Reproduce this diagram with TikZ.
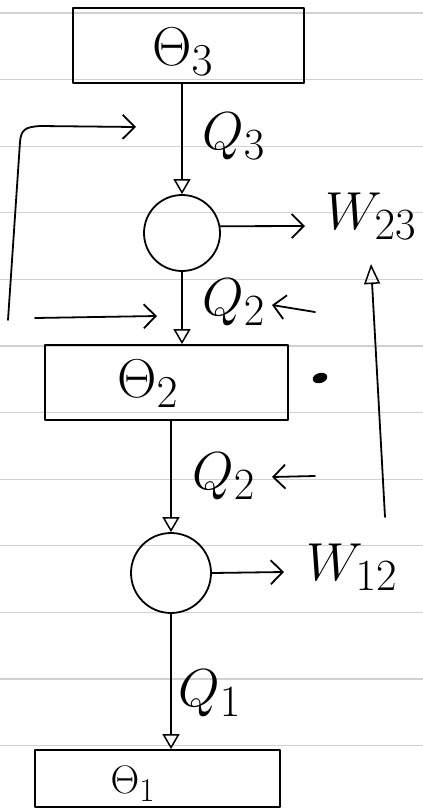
\documentclass[tikz,border=0pt]{standalone}
\usepackage{graphicx}
\usetikzlibrary{arrows.meta,calc}
\newcommand{\bigsym}[2][2.15]{\scalebox{#1}{\Huge #2}}
\begin{document}
\begin{tikzpicture}[x=1pt,y=-1pt,
  paper/.style={draw=black!18, line width=1.2pt},
  ink/.style={line width=1.8pt, line cap=round, line join=round},
  tank/.style={draw, ink, inner sep=0pt},
  engine/.style={draw, ink, circle, inner sep=0pt},
  lbl/.style={inner sep=0pt},
  flow/.style={ink, -{Triangle[open, length=15pt, width=17pt, line width=1.5pt]}},
  barb/.style={ink, -{Straight Barb[length=12pt, width=24pt, line width=1.8pt]}}
]
\useasboundingbox (0,0) rectangle (423,809);
% lined paper
\foreach \k in {0,...,11} \draw[paper] (0,13+66.6*\k) -- (423,13+66.6*\k);

% reservoirs
\node[tank, minimum width=231pt, minimum height=75pt] (t3) at (188.5,45.5) {};
\node[tank, minimum width=243pt, minimum height=75pt] (t2) at (166.5,382.5) {};
\node[tank, minimum width=245pt, minimum height=57pt] (t1) at (157.5,778.5) {};
\node[lbl] (t3txt) at (183,52) {\bigsym[2.2]{$\Theta_3$}};
\node[lbl] (t2txt) at (148,384) {\bigsym[2.2]{$\Theta_2$}};
\node[lbl] (t1txt) at (133,784) {\bigsym[1.6]{$\Theta_1$}};

% engines
\node[engine, minimum size=76pt] (c1) at (182,233) {};
\node[engine, minimum size=80pt] (c2) at (171,573) {};

% heat flows
\draw[flow] (c1.north |- t3.south) -- (c1.north);
\draw[flow] (c1.south) -- (c1.south |- t2.north);
\draw[flow] (c2.north |- t2.south) -- (c2.north);
\draw[flow] (c2.south) -- (c2.south |- t1.north);

\node[lbl] (q3) at (234,136) {\bigsym{$Q_3$}};
\node[lbl] (q2a) at (234,302) {\bigsym{$Q_2$}};
\node[lbl] (q2b) at (224,476) {\bigsym{$Q_2$}};
\node[lbl] (q1) at (210,693) {\bigsym{$Q_1$}};

% work
\coordinate (w23a) at (305,226);
\coordinate (w12a) at (284,572);
\draw[barb] (c1.10) -- (w23a);
\draw[barb] (c2.east) -- (w12a);
\node[lbl] (w23) at (371,216) {\bigsym{$W_{23}$}};
\node[lbl] (w12) at (352,567) {\bigsym{$W_{12}$}};

% feedback loop on left
\coordinate (fa) at (8,320);
\coordinate (fb) at (136,127);
\draw[barb] (fa) -- (20,142) .. controls (21,129) and (26,127) .. (40,126) -- (fb);
\coordinate (ha) at (35,318);
\coordinate (hb) at (157,316);
\draw[barb] (ha) -- (hb);

% small arrows pointing at Q labels
\coordinate (qa) at (315,312);
\coordinate (qb) at (272,305);
\draw[barb] (qa) -- (qb);
\coordinate (ra) at (315,476);
\coordinate (rb) at (272,477);
\draw[barb] (ra) -- (rb);

% right vertical arrow
\coordinate (va) at (385,517);
\coordinate (vb) at (371,264);
\draw[ink, -{Triangle[open, length=20pt, width=16pt, line width=1.5pt]}] (va) -- (vb);

% dot
\fill[rotate around={15:(320,378)}] (320,378) ellipse (7.5pt and 5pt);
\end{tikzpicture}
\end{document}
